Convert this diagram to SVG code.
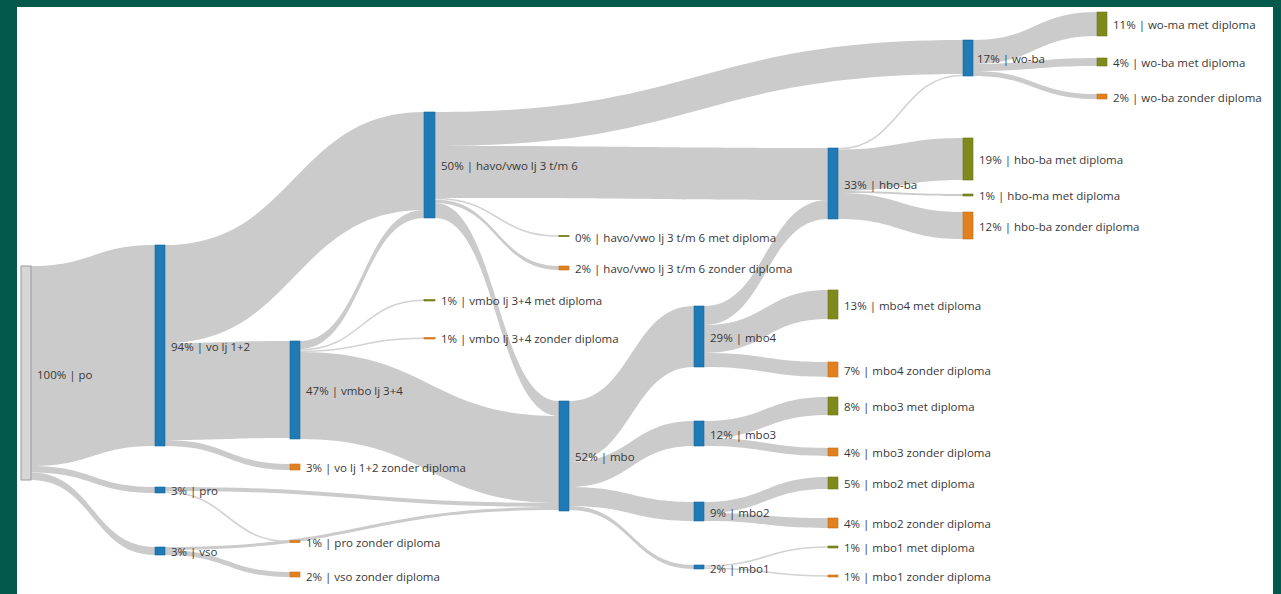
<svg xmlns="http://www.w3.org/2000/svg" width="1281" height="594" viewBox="0 0 1281 594">
<style>
.lk{fill:#cbcbcb;stroke:none}
.th{fill:none;stroke:#d2d2d2;stroke-width:1.6}
.b{fill:#1f7ab5;stroke:#18689a;stroke-width:0.6}
.o{fill:#7f8a1c;stroke:#6a7416;stroke-width:0.6}
.r{fill:#e2801f;stroke:#c96f15;stroke-width:0.6}
.g{fill:#d6d6d6;stroke:#9a9a9a;stroke-width:1}
text{font-family:"Open Sans","Noto Sans","Liberation Sans",sans-serif;font-size:11.5px;fill:#383838;dominant-baseline:middle}
</style>
<rect x="0" y="0" width="1281" height="594" fill="#035a4b"/>
<rect x="17" y="7" width="1256" height="587" fill="#ffffff"/>
<g id="links">
<path class="lk" d="M31,266 C93,266 93,245 155,245 L155,446 C93,446 93,466 31,466 Z"/>
<path class="lk" d="M31,466 C93,466 93,487 155,487 L155,493 C93,493 93,472.5 31,472.5 Z"/>
<path class="lk" d="M31,472.5 C93,472.5 93,547 155,547 L155,555 C93,555 93,480 31,480 Z"/>
<path class="lk" d="M165,245 C294.5,245 294.5,112 424,112 L424,210 C294.5,210 294.5,343 165,343 Z"/>
<path class="lk" d="M165,343 C227.5,343 227.5,341 290,341 L290,438 C227.5,438 227.5,440 165,440 Z"/>
<path class="lk" d="M165,440 C227.5,440 227.5,464 290,464 L290,470 C227.5,470 227.5,446 165,446 Z"/>
<path class="lk" d="M165,487 C362,487 362,503 559,503 L559,507 C362,507 362,491 165,491 Z"/>
<path class="th" d="M165,492 C227.5,492 227.5,541.5 290,541.5"/>
<path class="lk" d="M165,547 C362,547 362,507 559,507 L559,510 C362,510 362,550 165,550 Z"/>
<path class="lk" d="M165,550 C227.5,550 227.5,572 290,572 L290,577 C227.5,577 227.5,555 165,555 Z"/>
<path class="lk" d="M300,341 C362,341 362,210 424,210 L424,218 C362,218 362,349 300,349 Z"/>
<path class="th" d="M300,349.8 C362,349.8 362,300.2 424,300.2"/>
<path class="th" d="M300,351.3 C362,351.3 362,338.2 424,338.2"/>
<path class="lk" d="M300,352 C429.5,352 429.5,416 559,416 L559,503 C429.5,503 429.5,439 300,439 Z"/>
<path class="lk" d="M435,112 C699,112 699,40 963,40 L963,74 C699,74 699,146 435,146 Z"/>
<path class="lk" d="M435,146 C631.5,146 631.5,148 828,148 L828,200 C631.5,200 631.5,198 435,198 Z"/>
<path class="th" d="M435,198.5 C497,198.5 497,236 559,236"/>
<path class="lk" d="M435,199.5 C497,199.5 497,266 559,266 L559,270 C497,270 497,203 435,203 Z"/>
<path class="lk" d="M435,203 C497,203 497,401 559,401 L559,416 C497,416 497,218 435,218 Z"/>
<path class="lk" d="M569,401 C631.5,401 631.5,306 694,306 L694,367 C631.5,367 631.5,462 569,462 Z"/>
<path class="lk" d="M569,462 C631.5,462 631.5,421 694,421 L694,446 C631.5,446 631.5,487 569,487 Z"/>
<path class="lk" d="M569,487 C631.5,487 631.5,502 694,502 L694,521 C631.5,521 631.5,506 569,506 Z"/>
<path class="lk" d="M569,506 C631.5,506 631.5,565 694,565 L694,569 C631.5,569 631.5,510 569,510 Z"/>
<path class="lk" d="M704,306 C766,306 766,200 828,200 L828,219 C766,219 766,325 704,325 Z"/>
<path class="lk" d="M704,325 C766,325 766,290 828,290 L828,319 C766,319 766,353 704,353 Z"/>
<path class="lk" d="M704,353 C766,353 766,362 828,362 L828,377 C766,377 766,367 704,367 Z"/>
<path class="lk" d="M704,421 C766,421 766,397 828,397 L828,415 C766,415 766,438 704,438 Z"/>
<path class="lk" d="M704,438 C766,438 766,448 828,448 L828,456 C766,456 766,446 704,446 Z"/>
<path class="lk" d="M704,502 C766,502 766,477 828,477 L828,489 C766,489 766,513 704,513 Z"/>
<path class="lk" d="M704,513 C766,513 766,518 828,518 L828,528 C766,528 766,521 704,521 Z"/>
<path class="th" d="M704,566 C766,566 766,547 828,547"/>
<path class="th" d="M704,568 C766,568 766,576 828,576"/>
<path class="th" d="M838,148.8 C900.5,148.8 900.5,75.2 963,75.2"/>
<path class="lk" d="M838,149.5 C900.5,149.5 900.5,138 963,138 L963,180 C900.5,180 900.5,191 838,191 Z"/>
<path class="lk" d="M838,191 C900.5,191 900.5,194 963,194 L963,196 C900.5,196 900.5,193 838,193 Z"/>
<path class="lk" d="M838,193 C900.5,193 900.5,212 963,212 L963,239 C900.5,239 900.5,219 838,219 Z"/>
<path class="lk" d="M973,40 C1035,40 1035,12 1097,12 L1097,36 C1035,36 1035,64 973,64 Z"/>
<path class="lk" d="M973,64 C1035,64 1035,58 1097,58 L1097,66 C1035,66 1035,71 973,71 Z"/>
<path class="lk" d="M973,71 C1035,71 1035,94 1097,94 L1097,99 C1035,99 1035,76 973,76 Z"/>
</g>
<g id="n-po"><rect class="g" x="21" y="266" width="10" height="214"/><text x="37" y="376">100% | po</text></g>
<g id="n-vo12"><rect class="b" x="155" y="245" width="10" height="201"/><text x="171" y="348">94% | vo lj 1+2</text></g>
<g id="n-pro"><rect class="b" x="155" y="487" width="10" height="6"/><text x="171" y="492">3% | pro</text></g>
<g id="n-vso"><rect class="b" x="155" y="547" width="10" height="8"/><text x="171" y="553">3% | vso</text></g>
<g id="n-vmbo"><rect class="b" x="290" y="341" width="10" height="98"/><text x="306" y="392">47% | vmbo lj 3+4</text></g>
<g id="n-vo12z"><rect class="r" x="290" y="464" width="10" height="6"/><text x="306" y="469">3% | vo lj 1+2 zonder diploma</text></g>
<g id="n-proz"><rect class="r" x="290" y="540.5" width="10" height="2"/><text x="306" y="544">1% | pro zonder diploma</text></g>
<g id="n-vsoz"><rect class="r" x="290" y="572" width="10" height="5"/><text x="306" y="578">2% | vso zonder diploma</text></g>
<g id="n-havo"><rect class="b" x="424" y="112" width="11" height="106"/><text x="441" y="167">50% | havo/vwo lj 3 t/m 6</text></g>
<g id="n-vmbom"><rect class="o" x="424" y="299.5" width="11" height="1.5"/><text x="441" y="302">1% | vmbo lj 3+4 met diploma</text></g>
<g id="n-vmboz"><rect class="r" x="424" y="337.5" width="11" height="1.5"/><text x="441" y="340">1% | vmbo lj 3+4 zonder diploma</text></g>
<g id="n-havom"><rect class="o" x="559" y="235.3" width="10" height="1.4"/><text x="575" y="239">0% | havo/vwo lj 3 t/m 6 met diploma</text></g>
<g id="n-havoz"><rect class="r" x="559" y="266" width="10" height="4"/><text x="575" y="270">2% | havo/vwo lj 3 t/m 6 zonder diploma</text></g>
<g id="n-mbo"><rect class="b" x="559" y="401" width="10" height="110"/><text x="575" y="458">52% | mbo</text></g>
<g id="n-mbo4"><rect class="b" x="694" y="306" width="10" height="61"/><text x="710" y="339">29% | mbo4</text></g>
<g id="n-mbo3"><rect class="b" x="694" y="421" width="10" height="25"/><text x="710" y="436">12% | mbo3</text></g>
<g id="n-mbo2"><rect class="b" x="694" y="502" width="10" height="19"/><text x="710" y="514">9% | mbo2</text></g>
<g id="n-mbo1"><rect class="b" x="694" y="565" width="10" height="4"/><text x="710" y="570">2% | mbo1</text></g>
<g id="n-hbo"><rect class="b" x="828" y="148" width="10" height="71"/><text x="844" y="186">33% | hbo-ba</text></g>
<g id="n-mbo4m"><rect class="o" x="828" y="290" width="10" height="29"/><text x="844" y="307">13% | mbo4 met diploma</text></g>
<g id="n-mbo4z"><rect class="r" x="828" y="362" width="10" height="15"/><text x="844" y="372">7% | mbo4 zonder diploma</text></g>
<g id="n-mbo3m"><rect class="o" x="828" y="397" width="10" height="18"/><text x="844" y="408">8% | mbo3 met diploma</text></g>
<g id="n-mbo3z"><rect class="r" x="828" y="448" width="10" height="8"/><text x="844" y="454">4% | mbo3 zonder diploma</text></g>
<g id="n-mbo2m"><rect class="o" x="828" y="477" width="10" height="12"/><text x="844" y="485">5% | mbo2 met diploma</text></g>
<g id="n-mbo2z"><rect class="r" x="828" y="518" width="10" height="10"/><text x="844" y="525">4% | mbo2 zonder diploma</text></g>
<g id="n-mbo1m"><rect class="o" x="828" y="546" width="10" height="2"/><text x="844" y="549">1% | mbo1 met diploma</text></g>
<g id="n-mbo1z"><rect class="r" x="828" y="575" width="10" height="2"/><text x="844" y="578">1% | mbo1 zonder diploma</text></g>
<g id="n-woba"><rect class="b" x="963" y="40" width="10" height="36"/><text x="977" y="60">17% | wo-ba</text></g>
<g id="n-hbom"><rect class="o" x="963" y="138" width="10" height="42"/><text x="979" y="161">19% | hbo-ba met diploma</text></g>
<g id="n-hboma"><rect class="o" x="963" y="194" width="10" height="2"/><text x="979" y="197">1% | hbo-ma met diploma</text></g>
<g id="n-hboz"><rect class="r" x="963" y="212" width="10" height="27"/><text x="979" y="228">12% | hbo-ba zonder diploma</text></g>
<g id="n-woma"><rect class="o" x="1097" y="12" width="10" height="24"/><text x="1113" y="26">11% | wo-ma met diploma</text></g>
<g id="n-wobam"><rect class="o" x="1097" y="58" width="10" height="8"/><text x="1113" y="64">4% | wo-ba met diploma</text></g>
<g id="n-wobaz"><rect class="r" x="1097" y="94" width="10" height="5"/><text x="1113" y="99">2% | wo-ba zonder diploma</text></g>
</svg>
